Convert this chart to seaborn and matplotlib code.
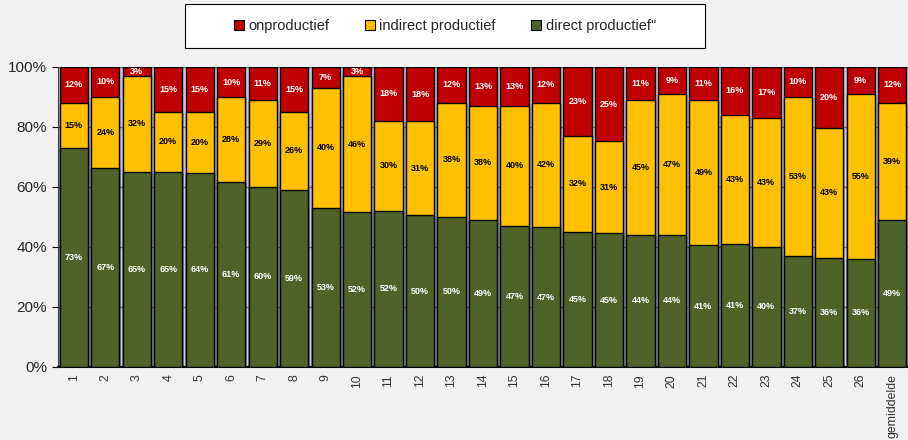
import matplotlib
matplotlib.use("Agg")
import matplotlib.pyplot as plt
import matplotlib.patches as mpatches
from matplotlib.ticker import FixedLocator
import numpy as np
import pandas as pd
import seaborn as sns

# Données (en %)
categories = [str(i) for i in range(1, 27)] + ["gemiddelde"]
direct = [73, 67, 65, 65, 64, 61, 60, 59, 53, 52, 52, 50, 50, 49, 47, 47, 45, 45,
          44, 44, 41, 41, 40, 37, 36, 36, 49]
indirect = [15, 24, 32, 20, 20, 28, 29, 26, 40, 46, 30, 31, 38, 38, 40, 42, 32, 31,
            45, 47, 49, 43, 43, 53, 43, 55, 39]
onproductief = [12, 10, 3, 15, 15, 10, 11, 15, 7, 3, 18, 18, 12, 13, 13, 12, 23, 25,
                11, 9, 11, 16, 17, 10, 20, 9, 12]
yticks = [0, 20, 40, 60, 80, 100]

c_red = "#c00000"
c_yellow = "#ffc000"
c_green = "#4f6228"

sns.set_style("white")
plt.rcParams["font.family"] = ["Liberation Sans", "DejaVu Sans"]

# normalisation : chaque barre = 100 %
tot = np.array(direct) + np.array(indirect) + np.array(onproductief)
g = np.array(direct) / tot * 100
gy = (np.array(direct) + np.array(indirect)) / tot * 100
df = pd.DataFrame({"cat": categories, "g": g, "gy": gy, "all": 100.0})

fig = plt.figure(figsize=(9.08, 4.40), dpi=100, facecolor="#f2f2f2")
ax = fig.add_axes([0.064, 0.166, 0.936, 0.682])
ax.set_facecolor("#c8c8f0")

for col, color in [("all", c_red), ("gy", c_yellow), ("g", c_green)]:
    sns.barplot(data=df, x="cat", y=col, color=color, width=0.9, saturation=1,
                edgecolor="black", linewidth=1, ax=ax, zorder=3)

# étiquettes de valeurs
for i in range(len(categories)):
    ax.text(i, g[i] / 2, f"{direct[i]}%", ha="center", va="center",
            color="white", fontsize=6.5, fontweight="bold", zorder=5)
    ax.text(i, (g[i] + gy[i]) / 2, f"{indirect[i]}%", ha="center", va="center",
            color="black", fontsize=6.5, fontweight="bold", zorder=5)
    ax.text(i, (gy[i] + 100) / 2, f"{onproductief[i]}%", ha="center", va="center",
            color="white", fontsize=6.5, fontweight="bold", zorder=5)

ax.set_xlim(-0.5, len(categories) - 0.5)
ax.set_ylim(0, 100)
ax.set_yticks(yticks)
ax.set_yticklabels([f"{v}%" for v in yticks], fontsize=11)
ax.yaxis.grid(True, color="#707070", linewidth=1, zorder=0)
ax.set_axisbelow(True)
ax.set_xlabel("")
ax.set_ylabel("")
ax.set_xticks(range(len(categories)))
ax.set_xticklabels(categories, rotation=90, fontsize=8.8, color="#333333")
ax.xaxis.set_minor_locator(FixedLocator(np.arange(-0.5, len(categories), 1)))
ax.tick_params(axis="x", which="major", length=0, pad=5)
ax.tick_params(axis="x", which="minor", length=4, color="black", direction="out")
ax.tick_params(axis="y", length=4, color="black", direction="out", left=True, pad=4)

for s in ["top", "right"]:
    ax.spines[s].set_visible(False)
ax.spines["left"].set_color("#404040")
ax.spines["bottom"].set_color("black")
ax.spines["bottom"].set_linewidth(1.5)

# légende
box = mpatches.Rectangle((185 / 908, 1 - 48 / 440), 520 / 908, 44 / 440,
                         transform=fig.transFigure, facecolor="white",
                         edgecolor="black", linewidth=0.8)
fig.patches.append(box)
handles = [mpatches.Patch(facecolor=c, edgecolor="black", linewidth=0.8, label=l)
           for c, l in [(c_red, "onproductief"), (c_yellow, "indirect productief"),
                        (c_green, "direct productief\"")]]
fig.legend(handles=handles, loc="center", bbox_to_anchor=(445 / 908, 1 - 26 / 440),
           ncol=3, frameon=False, fontsize=10.5, handlelength=0.7, handleheight=0.7,
           handletextpad=0.3, columnspacing=2.4)

fig.savefig("out.png", dpi=100, facecolor=fig.get_facecolor())
